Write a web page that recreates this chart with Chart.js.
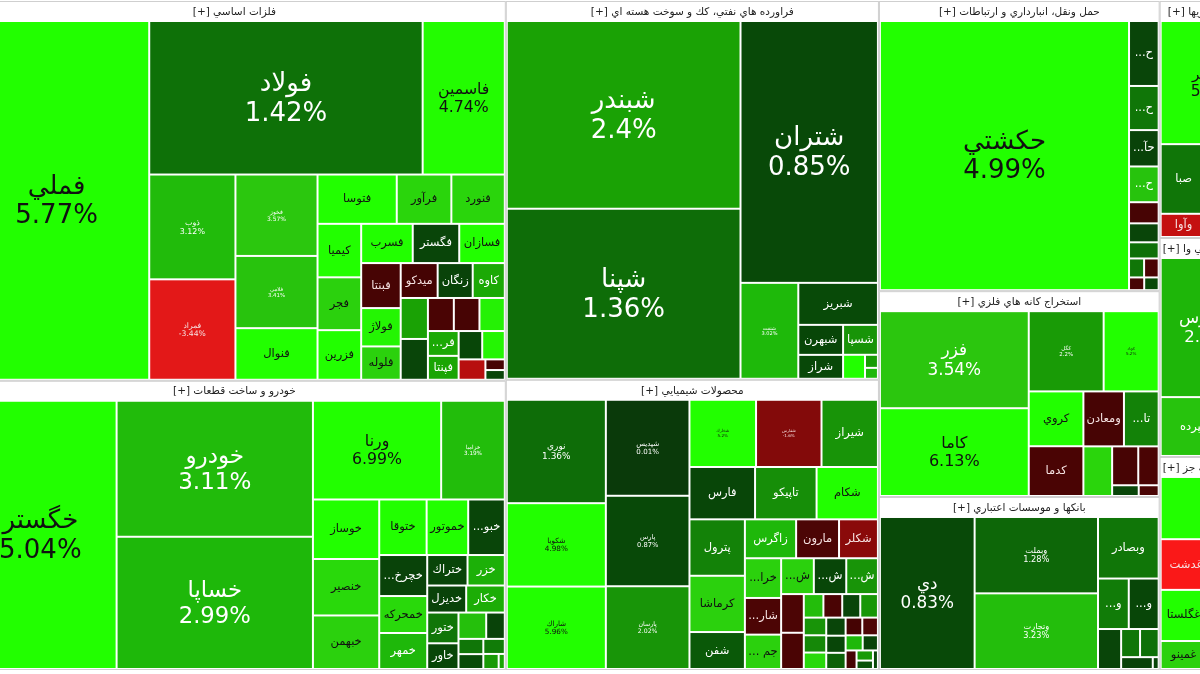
<!DOCTYPE html>
<html>
<head>
<meta charset="utf-8">
<title>نقشه بازار</title>
<script src="https://cdn.jsdelivr.net/npm/chart.js@4.4.1/dist/chart.umd.min.js"></script>
<style>
  html, body { margin: 0; padding: 0; background: #fff; }
  #map { display: block; }
</style>
</head>
<body>
<canvas id="map" width="1200" height="674"></canvas>
<script>
// ---- data: sector names, then per sector symbols / weight / daily change (%) ----
const sectorNames = [
  'فلزات اساسي',
  'خودرو و ساخت قطعات',
  'فراورده هاي نفتي، كك و سوخت هسته اي',
  'محصولات شيميايي',
  'حمل ونقل، انبارداري و ارتباطات',
  'استخراج كانه هاي فلزي',
  'بانكها و موسسات اعتباري',
  'سرمايه گذاريها',
  'فعاليتهاي كمكي به نهادهاي مالي وا',
  'محصولات غذايي و آشاميدني به جز'
];

const metalsNames = ['فملي','فولاد','فاسمين','ذوب','فمراد','فخوز','فلامي','فنوال','فتوسا','فرآور','فنورد','كيميا','فجر','فزرين','فسرب','فگستر','فسازان','فبنتا','فولاژ','فلوله','ميدكو','زنگان','كاوه','فروي','فالوم','فاذر','فايرا','هرمز','فروس','فپنتا','فجهان','فسپا','فباهنر','فكالا','فافزا'];
const metalsValues = [706,446,134,96,92,71,63,45,41.5,28.6,28,24.8,24.5,23,21.5,19.4,19,18.9,16.1,14,13.7,13,11.9,11.85,11.8,9.1,9,8.9,8.1,7.8,7.1,6.8,5.8,2.2,2];
const metalsChanges = [5.77,1.42,4.74,3.12,-3.44,3.57,3.41,5.1,5.0,3.9,3.9,4.8,3.8,5.2,4.9,0.6,4.9,-0.5,4.6,3.8,-0.4,0.5,2.6,2.4,0.6,-0.6,-0.5,4.5,2.6,2.5,0.7,4.6,-2.4,-0.5,0.6];

const autoNames = ['خگستر','خودرو','خساپا','ورنا','خزاميا','خوساز','خنصير','خبهمن','ختوقا','خموتور','خبوشهر','خچرخش','خمحركه','خمهر','ختراك','خزر','خديزل','خكار','ختور','خاور','خفنر','خريخت','خپارس','خكمك','خشرق','خرينگ','خلنت'];
const autoValues = [443,289,281,137,68,42.7,40.5,38.4,28.5,25,22,21.3,19.2,18.7,13.3,12.3,11.4,11.3,10.4,8.7,7.9,5.3,4.1,4.0,3.5,2.5,1.0];
const autoChanges = [5.04,3.11,2.99,6.99,3.19,5.0,4.0,3.8,4.9,4.8,0.6,0.5,4.0,3.0,0.6,2.8,0.5,2.7,1.5,0.7,3.3,0.5,1.5,0.9,1.6,2.2,2.5];

const oilNames = ['شبندر','شپنا','شتران','شنفت','شبريز','شبهرن','شراز','شسپا','شپاس','شاملا','شدامين'];
const oilValues = [467,423,383,59,35.6,14.3,11.4,11.1,5.6,1.8,1.5];
const oilChanges = [2.4,1.36,0.85,3.02,0.9,0.7,0.8,2.0,4.8,2.2,3.0];

const chemNames = ['نوري','شكويا','شاراك','شپديس','پارس','پارسان','شخارك','شفارس','شيراز','فارس','تاپيكو','شكام','پترول','كرماشا','شفن','زاگرس','مارون','شكلر','خراسان','شاروم','جم پيلن','شپاكسا','شصدف','شلعاب','شگويا','شسينا','شتوكا','شفا','شرانل','شدوص','شغدير','شجم','شپلي','شوينده','شبصير','شسم','شملي','شنوا','شيشه','شلرد','شصفها','شكربن','شمواد','شسرب'];
const chemValues = [111,89.5,88.5,87,82,75,48.5,47.7,41.1,37.2,34.9,34.8,33.9,33.8,22.2,21.6,18.1,16.4,15.6,14.4,13.5,12.7,12.6,12.3,9.5,8.9,5.0,4.8,4.6,4.5,4.3,4.2,4.0,3.8,3.6,3.4,3.2,3.0,2.8,2.5,2.2,1.8,1.5,1.0];
const chemChanges = [1.36,4.98,5.96,0.01,0.87,2.02,5.2,-1.6,2.0,0.7,1.9,4.9,1.7,3.8,1.1,3.0,-0.7,-1.7,3.8,-0.7,3.8,3.8,0.7,2.0,-0.7,-0.6,3.2,-0.6,0.6,2.1,2.0,1.8,4.0,0.6,0.7,1.2,-0.4,-0.8,3.0,0.5,-0.5,2.2,1.0,0.8];

const transportNames = ['حكشتي','حپارسا','حفارس','حآفرين','حسينا','حريل','حتايد','حسير','حبندر','حتوكا','حاسا','حشكوه'];
const transportValues = [728,20.9,14.2,11.7,11.5,6.8,6.1,5.2,3.1,3.0,2.1,2.0];
const transportChanges = [4.99,0.6,1.5,0.5,3.4,-0.5,0.6,1.4,1.5,-0.6,-0.5,0.8];

const miningNames = ['فزر','كاما','كگل','كچاد','كروي','كدما','ومعادن','تاصيكو','كنور','كبافق','كمرجان','كگهر','كخاك'];
const miningValues = [162,146.5,67.4,49.5,33.6,30.5,25,21.4,16,11.4,8.9,3.2,2.4];
const miningChanges = [3.54,6.13,2.2,5.2,5.0,-0.6,-0.5,1.7,3.9,-0.5,-0.6,0.6,-0.6];

const bankNames = ['دي','وبملت','وتجارت','وبصادر','وپست','وخاور','وسينا','ونوين','وكار','وپاسار','وانصار'];
const bankValues = [165,108,107,42.8,17.8,17.3,10.6,6.1,6.0,4.3,0.8];
const bankChanges = [0.83,1.28,3.23,1.5,1.6,0.7,0.6,1.5,1.4,0.5,0.6];

const investNames = ['وغدير','صبا','وآوا','وبهمن','ونيكي','وصنا','وسبحان','وبوعلي','وتوكا','ولساپا'];
const investValues = [137,35.7,11.9,11.5,10.8,9.6,8.4,7.2,5.1,3.1];
const investChanges = [5.3,1.5,-2.6,1.0,3.0,0.8,-0.5,2.0,4.0,1.0];

const financeNames = ['فرابورس','سپرده','ساتا','آپ'];
const financeValues = [156,46,11,9];
const financeChanges = [2.95,3.4,1.0,1.5];

const foodNames = ['غشهد','غدشت','غبشهر','غگلستا','غمينو','غپاك','غبهار','غزر','غچين','غسالم'];
const foodValues = [70,29,28,26.5,14.5,13,11.5,10,8,5.5];
const foodChanges = [5.1,-4.2,2.0,4.8,3.8,1.0,2.0,-0.5,1.5,3.0];

const sectorData = [
  [metalsNames, metalsValues, metalsChanges],
  [autoNames, autoValues, autoChanges],
  [oilNames, oilValues, oilChanges],
  [chemNames, chemValues, chemChanges],
  [transportNames, transportValues, transportChanges],
  [miningNames, miningValues, miningChanges],
  [bankNames, bankValues, bankChanges],
  [investNames, investValues, investChanges],
  [financeNames, financeValues, financeChanges],
  [foodNames, foodValues, foodChanges]
];
// sectors stacked in columns, left to right
const columnGroups = [[0, 1], [2, 3], [4, 5, 6], [7, 8, 9]];

// ---- layout settings ----
const HEADER = 20;          // sector title band
const FRAME_TOP = 1;
const FRAME_H = 669;
const AREA_PER_UNIT = 100;  // px^2 per weight unit
const VIEW_X0 = 37;         // the picture is a crop of a wider map
const FONT = '"DejaVu Sans", sans-serif';

// colour scale for the daily change
const UP_STOPS = [[0, 10, 58, 10], [0.9, 8, 74, 8], [1.4, 14, 112, 8], [2.0, 24, 148, 8], [2.5, 26, 165, 4],
                  [3.0, 30, 184, 10], [3.6, 44, 200, 14], [4.2, 40, 226, 10], [4.8, 34, 255, 0]];
const DOWN_STOPS = [[0, 60, 0, 0], [0.8, 78, 6, 6], [1.7, 138, 10, 10], [2.6, 196, 16, 16], [3.4, 226, 24, 24], [4.2, 250, 24, 24]];

function pickStop(stops, v) {
  if (v <= stops[0][0]) return stops[0].slice(1);
  for (let i = 1; i < stops.length; i++) {
    if (v <= stops[i][0]) {
      const a = stops[i - 1], b = stops[i], t = (v - a[0]) / (b[0] - a[0]);
      return [1, 2, 3].map(k => Math.round(a[k] + (b[k] - a[k]) * t));
    }
  }
  return stops[stops.length - 1].slice(1);
}
const tileColor = p => 'rgb(' + (p >= 0 ? pickStop(UP_STOPS, p) : pickStop(DOWN_STOPS, -p)).join(',') + ')';
const inkColor = p => p >= 3.75 ? '#111' : (p < 0 ? '#f6e2e2' : '#fff');

// squarified treemap (same row rule as d3, ratio 1)
function squarify(items, x0, y0, x1, y1) {
  let value = items.reduce((s, d) => s + d.value, 0);
  let i0 = 0;
  const n = items.length;
  while (i0 < n) {
    const dx = x1 - x0, dy = y1 - y0;
    let i1 = i0;
    let sum = items[i1++].value, lo = sum, hi = sum;
    const alpha = Math.max(dy / dx, dx / dy) / value;
    let beta = sum * sum * alpha;
    let best = Math.max(hi / beta, beta / lo);
    for (; i1 < n; i1++) {
      const v = items[i1].value;
      const s2 = sum + v, lo2 = Math.min(lo, v), hi2 = Math.max(hi, v);
      beta = s2 * s2 * alpha;
      const r = Math.max(hi2 / beta, beta / lo2);
      if (r > best) break;
      sum = s2; lo = lo2; hi = hi2; best = r;
    }
    const row = items.slice(i0, i1);
    if (dx < dy) {
      const yb = i1 < n ? y0 + dy * sum / value : y1;
      let x = x0;
      row.forEach(d => { const w = dx * d.value / sum; d.box = [x, y0, x + w, yb]; x += w; });
      y0 = yb;
    } else {
      const xb = i1 < n ? x0 + dx * sum / value : x1;
      let y = y0;
      row.forEach(d => { const h = dy * d.value / sum; d.box = [x0, y, xb, y + h]; y += h; });
      x0 = xb;
    }
    value -= sum;
    i0 = i1;
  }
}

const total = arr => arr.reduce((s, v) => s + v, 0);
const sectorTotals = sectorData.map(s => total(s[1]));
const grandTotal = total(sectorTotals);
const frameW = grandTotal * AREA_PER_UNIT / FRAME_H;

const sectorPoints = [];
const tilePoints = [];
let colX = 0;
columnGroups.forEach(group => {
  const colTotal = total(group.map(i => sectorTotals[i]));
  const colW = frameW * colTotal / grandTotal;
  let rowY = FRAME_TOP;
  group.forEach(si => {
    const h = FRAME_H * sectorTotals[si] / colTotal;
    const box = [colX, rowY, colX + colW, rowY + h];
    sectorPoints.push({ x: colX + colW / 2, y: rowY + h / 2, box, name: sectorNames[si] + ' [+]', kind: 'sector' });
    const [names, values, changes] = sectorData[si];
    const tiles = names.map((name, k) => ({ name, value: values[k], pct: changes[k] }))
                       .sort((a, b) => b.value - a.value);
    squarify(tiles, box[0] + 1, box[1] + HEADER, box[2] - 1, box[3] - 1);
    tiles.forEach(t => tilePoints.push({
      x: (t.box[0] + t.box[2]) / 2, y: (t.box[1] + t.box[3]) / 2,
      box: t.box, name: t.name, pct: t.pct, kind: 'tile'
    }));
    rowY += h;
  });
  colX += colW;
});

// ---- Chart.js treemap pieces ----
class TileElement extends Chart.Element {
  draw(ctx) {
    if (!(this.w > 0 && this.h > 0)) return;
    if (this.kind === 'sector') this.drawSector(ctx);
    else this.drawTile(ctx);
  }
  drawSector(ctx) {
    const { x, y, w, h, hb } = this;
    ctx.save();
    ctx.strokeStyle = '#cfcfcf';
    ctx.lineWidth = 1;
    ctx.strokeRect(x + 0.5, y + 0.5, w - 1, h - 1);
    ctx.beginPath();
    ctx.rect(x, y, w, hb);
    ctx.clip();
    ctx.font = '10.5px ' + FONT;
    ctx.fillStyle = '#222';
    ctx.direction = 'rtl';
    ctx.textBaseline = 'middle';
    const tw = ctx.measureText(this.name).width;
    if (tw <= w - 8) {
      ctx.textAlign = 'center';
      ctx.fillText(this.name, x + w / 2, y + hb / 2 + 1);
    } else {
      ctx.textAlign = 'left';
      ctx.fillText(this.name, x + 3, y + hb / 2 + 1);
    }
    ctx.restore();
  }
  drawTile(ctx) {
    const { x, y, w, h, pct, name } = this;
    const iw = w - 2, ih = h - 2;
    if (iw <= 0 || ih <= 0) return;
    ctx.save();
    ctx.fillStyle = tileColor(pct);
    ctx.fillRect(x + 1, y + 1, iw, ih);
    ctx.beginPath();
    ctx.rect(x + 1, y + 1, iw, ih);
    ctx.clip();
    ctx.fillStyle = inkColor(pct);
    ctx.textAlign = 'center';
    ctx.textBaseline = 'middle';
    const cx = x + w / 2, cy = y + h / 2;
    const area = iw * ih;
    const pctText = pct + '%';
    if (area >= 4000 && iw >= 20 && ih >= 20) {
      let fs = area >= 11000 ? Math.min(26, Math.sqrt(area) / 7) : 4 + (area - 4000) * 0.00085;
      for (;;) {
        ctx.font = fs + 'px ' + FONT;
        const tw = Math.max(ctx.measureText(name).width, ctx.measureText(pctText).width);
        if (tw <= iw - 8 || fs <= 4) break;
        fs -= 0.5;
      }
      ctx.direction = 'rtl';
      ctx.fillText(name, cx, cy - fs * 0.52);
      ctx.direction = 'ltr';
      ctx.fillText(pctText, cx, cy + fs * 0.62);
    } else if (iw >= 27 && ih >= 20) {
      ctx.font = '11.5px ' + FONT;
      ctx.direction = 'rtl';
      let s = name;
      if (ctx.measureText(s).width > iw - 4) {
        let k = s.length - 1;
        while (k > 0 && ctx.measureText(s.slice(0, k) + '...').width > iw - 4) k--;
        s = k > 0 ? s.slice(0, k) + '...' : '';
      }
      if (s) ctx.fillText(s, cx, cy);
    }
    ctx.restore();
  }
  inRange(mx, my) { return mx >= this.x && mx <= this.x + this.w && my >= this.y && my <= this.y + this.h; }
  inXRange(mx) { return mx >= this.x && mx <= this.x + this.w; }
  inYRange(my) { return my >= this.y && my <= this.y + this.h; }
  getCenterPoint() { return { x: this.x + this.w / 2, y: this.y + this.h / 2 }; }
  tooltipPosition() { return this.getCenterPoint(); }
}
TileElement.id = 'tmTile';
TileElement.defaults = {};

class TreemapController extends Chart.DatasetController {
  update() {
    const meta = this._cachedMeta;
    this.updateElements(meta.data, 0, meta.data.length);
  }
  updateElements(elements, start, count) {
    const { xScale, yScale } = this._cachedMeta;
    const data = this.getDataset().data;
    for (let i = start; i < start + count; i++) {
      const d = data[i];
      const px0 = xScale.getPixelForValue(d.box[0]), px1 = xScale.getPixelForValue(d.box[2]);
      const py0 = yScale.getPixelForValue(d.box[1]), py1 = yScale.getPixelForValue(d.box[3]);
      const hb = Math.abs(yScale.getPixelForValue(d.box[1] + HEADER) - py0);
      Object.assign(elements[i], {
        x: Math.min(px0, px1), y: Math.min(py0, py1),
        w: Math.abs(px1 - px0), h: Math.abs(py1 - py0), hb,
        kind: d.kind, name: d.name, pct: d.pct
      });
    }
  }
}
TreemapController.id = 'treemap';
TreemapController.defaults = { datasetElementType: false, dataElementType: 'tmTile' };

Chart.register(TreemapController, TileElement);

new Chart(document.getElementById('map'), {
  type: 'treemap',
  data: {
    datasets: [
      { label: 'نمادها', data: tilePoints },
      { label: 'گروه ها', data: sectorPoints }
    ]
  },
  options: {
    responsive: false,
    animation: false,
    events: [],
    layout: { padding: 0 },
    plugins: { legend: { display: false }, tooltip: { enabled: false } },
    scales: {
      x: { type: 'linear', display: false, min: VIEW_X0, max: VIEW_X0 + 1200 },
      y: { type: 'linear', display: false, min: 0, max: 674, reverse: true }
    }
  }
});
</script>
</body>
</html>
